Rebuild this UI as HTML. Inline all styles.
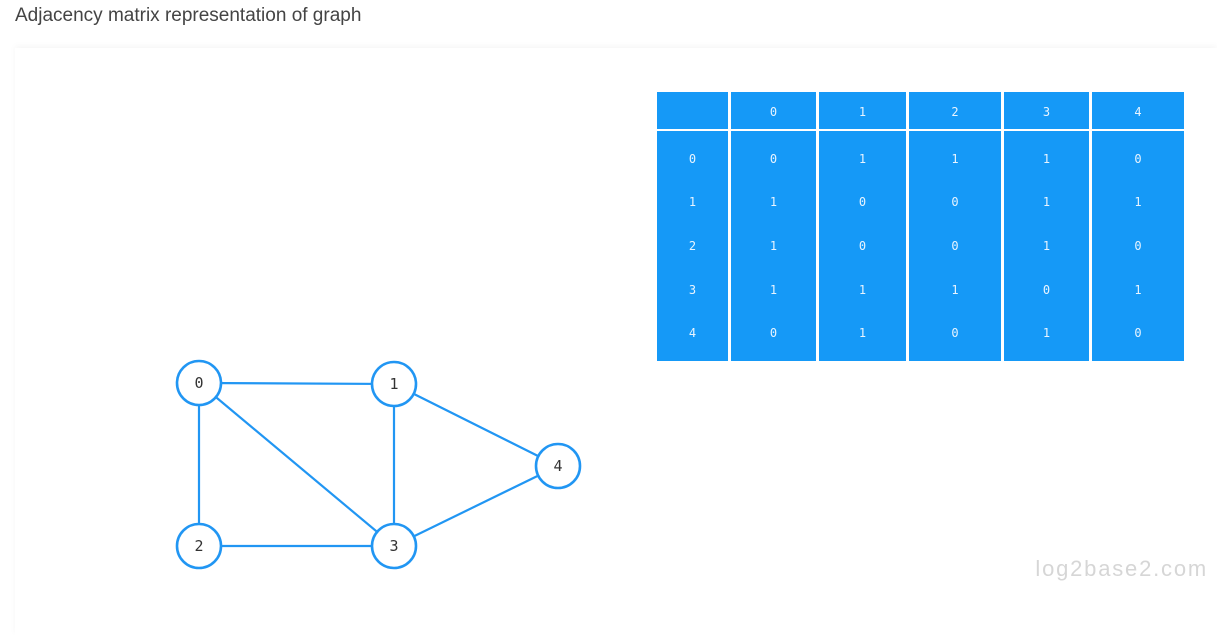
<!DOCTYPE html>
<html><head><meta charset="utf-8"><style>
body{margin:0;width:1217px;height:635px;overflow:hidden;background:#fff;font-family:"Liberation Sans",sans-serif}
#title{position:absolute;left:15px;top:5px;font-size:19px;color:#444}
#card{position:absolute;left:15px;top:48px;width:1202px;height:587px;background:#fff;box-shadow:0 -2px 6px rgba(0,0,0,0.04)}
svg{position:absolute;left:0;top:0}
</style></head><body>
<div id="title">Adjacency matrix representation of graph</div>
<div id="card"></div>
<svg id="s" width="1217" height="635"></svg>
<script>
const nodeIds=[0,1,2,3,4];
const nodeX=[199,394,199,394,558];
const nodeY=[383,384,546,546,466];
const matrix=[[0,1,1,1,0],[1,0,0,1,1],[1,0,0,1,0],[1,1,1,0,1],[0,1,0,1,0]];
const colEdges=[657,731,819,909,1004,1092,1184];
const headerTop=92, headerBottom=129, bodyTop=131, bodyBottom=361;
const rowY=[159,202,246,290,333];
const NS="http://www.w3.org/2000/svg";
const s=document.getElementById('s');
function mk(t,a){const e=document.createElementNS(NS,t);for(const k in a)e.setAttribute(k,a[k]);s.appendChild(e);return e;}
const blue="#2196F3", cell="#1599f7";
const mono="DejaVu Sans Mono, monospace";
for(let c=0;c<6;c++){
  const x0=colEdges[c], x1=colEdges[c+1]-(c<5?3:0);
  let h=mk('rect',{x:x0,y:headerTop,width:x1-x0,height:headerBottom-headerTop,fill:cell});
  
  
  let b=mk('rect',{x:x0,y:bodyTop,width:x1-x0,height:bodyBottom-bodyTop,fill:cell});
  
  
  const cx=(x0+x1)/2;
  if(c>0){let t=mk('text',{x:cx,y:116,'text-anchor':'middle',fill:'#e8f4ff','font-size':12,'font-family':mono});t.textContent=nodeIds[c-1];
    
    }
  for(let r=0;r<5;r++){
    let t=mk('text',{x:cx,y:rowY[r]+4,'text-anchor':'middle',fill:'#e8f4ff','font-size':12,'font-family':mono});
    t.textContent=c==0?nodeIds[r]:matrix[r][c-1];
    
    
  }
}
for(let i=0;i<5;i++)for(let j=i+1;j<5;j++)if(matrix[i][j]){
  let l=mk('line',{x1:nodeX[i],y1:nodeY[i],x2:nodeX[j],y2:nodeY[j],stroke:blue,'stroke-width':2.2});
  
  
}
for(let i=0;i<5;i++){
  let c=mk('circle',{cx:nodeX[i],cy:nodeY[i],r:22,fill:'#fff',stroke:blue,'stroke-width':2.6});
  
  
  let t=mk('text',{x:nodeX[i],y:nodeY[i]+5,'text-anchor':'middle',fill:'#333','font-size':15,'font-family':mono});
  t.textContent=nodeIds[i];
  
  
}
let w=mk('text',{x:1208,y:576,'text-anchor':'end',fill:'#d6d6d6','font-size':22,'letter-spacing':1.8});
w.textContent='log2base2.com';


</script>
</body></html>
